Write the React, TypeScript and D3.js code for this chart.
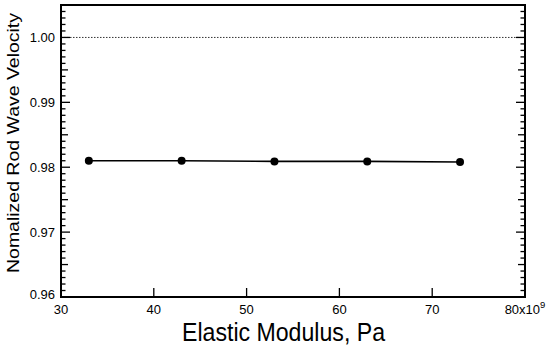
import React from "react";
import * as d3 from "d3";

const modulus = [33, 43, 53, 63, 73];
const velocity = [0.981, 0.981, 0.9809, 0.9809, 0.9808];
const xTicks = [30, 40, 50, 60, 70, 80];
const yTicks = [0.96, 0.97, 0.98, 0.99, 1.0];
const referenceLevel = 1.0;

const W = 546;
const H = 350;
const M = { left: 61, right: 525, top: 5, bottom: 297 };

export default function App() {
  const x = d3.scaleLinear().domain([30, 80]).range([M.left, M.right]);
  const y = d3.scaleLinear().domain([0.96, 1.005]).range([M.bottom, M.top]);
  const line = d3
    .line<number>()
    .x((_, i) => x(modulus[i]))
    .y((d) => y(d));

  const minor = d3.range(0, 45).map((k) => 0.96 + k * 0.001);
  const font = "'Liberation Sans', Arial, Helvetica, sans-serif";

  const tickLen = (v: number) => {
    const k = Math.round((v - 0.96) * 1000);
    if (k % 10 === 0) return 9;
    if (k % 5 === 0) return 7;
    return 4.5;
  };

  return (
    <svg
      width={W}
      height={H}
      style={{ position: "absolute", left: 0, top: 0, background: "#fff" }}
      fontFamily={font}
    >
      <line
        x1={M.left}
        x2={M.right}
        y1={y(referenceLevel)}
        y2={y(referenceLevel)}
        stroke="#333"
        strokeWidth={1}
        strokeDasharray="1.5,1.5"
      />
      {minor.map((v, i) => (
        <g key={i}>
          <line
            x1={M.left}
            x2={M.left + tickLen(v)}
            y1={y(v)}
            y2={y(v)}
            stroke="#000"
            strokeWidth={1.3}
          />
          <line
            x1={M.right}
            x2={M.right - tickLen(v)}
            y1={y(v)}
            y2={y(v)}
            stroke="#000"
            strokeWidth={1.3}
          />
        </g>
      ))}
      {xTicks.slice(1, -1).map((v) => (
        <line
          key={v}
          x1={x(v)}
          x2={x(v)}
          y1={M.bottom}
          y2={M.bottom - 9}
          stroke="#000"
          strokeWidth={1.3}
        />
      ))}
      <rect
        x={M.left}
        y={M.top}
        width={M.right - M.left}
        height={M.bottom - M.top}
        fill="none"
        stroke="#000"
        strokeWidth={2}
      />
      {yTicks.map((v) => (
        <text
          key={v}
          x={M.left - 6}
          y={v === 0.96 ? y(v) - 3 : y(v)}
          textAnchor="end"
          dominantBaseline="central"
          fontSize={13}
        >
          {v.toFixed(2)}
        </text>
      ))}
      {xTicks.map((v) => (
        <text
          key={v}
          x={x(v)}
          y={M.bottom + 17}
          textAnchor="middle"
          fontSize={13}
        >
          {v === 80 ? (
            <>
              80x10
              <tspan fontSize={9.5} dy={-6}>
                9
              </tspan>
            </>
          ) : (
            v
          )}
        </text>
      ))}
      <path d={line(velocity) || ""} fill="none" stroke="#000" strokeWidth={1.6} />
      {velocity.map((v, i) => (
        <circle key={i} cx={x(modulus[i])} cy={y(v)} r={4} fill="#000" />
      ))}
      <text
        x={182}
        y={341}
        textAnchor="start"
        fontSize={25}
        textLength={203}
        lengthAdjust="spacingAndGlyphs"
      >
        Elastic Modulus, Pa
      </text>
      <text
        transform={`translate(19, 143) rotate(-90)`}
        textAnchor="middle"
        fontSize={17}
        textLength={260}
        lengthAdjust="spacingAndGlyphs"
      >
        Nomalized Rod Wave Velocity
      </text>
    </svg>
  );
}
